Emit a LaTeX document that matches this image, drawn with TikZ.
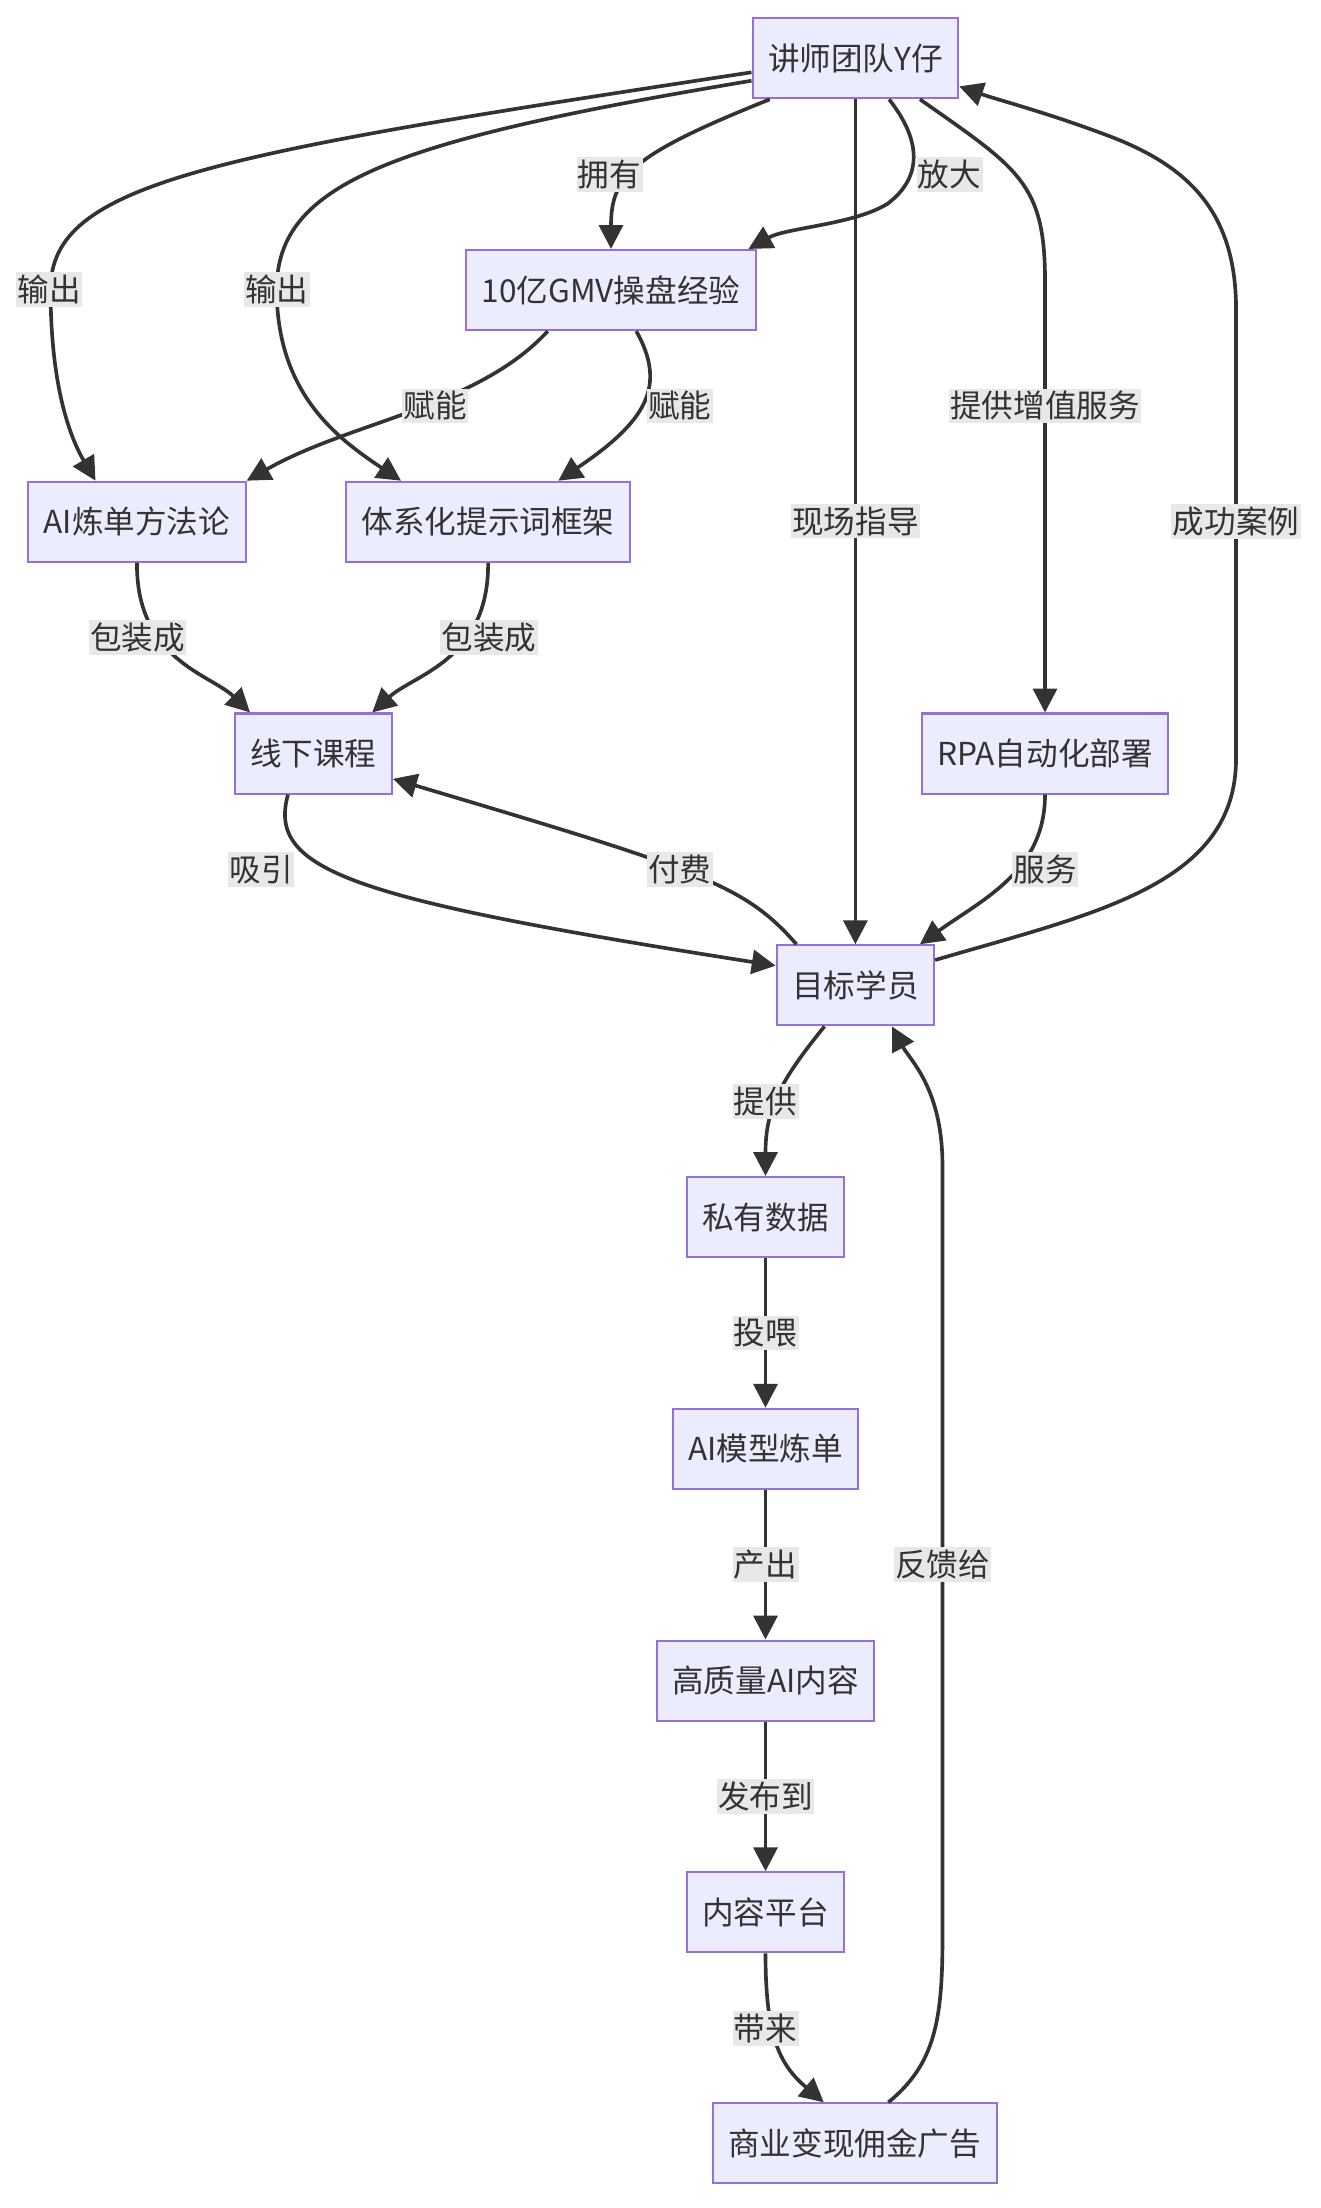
\documentclass[tikz,border=0pt]{standalone}
\usepackage{fontspec}
\setmainfont{Noto Sans CJK SC}
\usetikzlibrary{arrows.meta}

\definecolor{boxfill}{HTML}{ECECFF}
\definecolor{boxline}{HTML}{9370DB}
\definecolor{edge}{HTML}{333333}
\definecolor{lblfill}{HTML}{E8E8E8}

\begin{document}
\begin{tikzpicture}[x=0.5pt,y=-0.5pt,
	font=\fontsize{11.25pt}{13pt}\selectfont,
	box/.style={draw=boxline,fill=boxfill,line width=0.75pt,minimum height=28.5pt,inner xsep=5.5pt,text=edge},
	lbl/.style={fill=lblfill,inner xsep=0.5pt,inner ysep=1pt,text=edge},
	link/.style={->,draw=edge,line width=1.3pt},
	>={Triangle[length=8.5pt,width=8.5pt]}]

	\useasboundingbox (0,0) rectangle (940,1572);

	\node[box] (team) at (609,41.5) {讲师团队Y仔};
	\node[box] (gmv) at (435,206.5) {10亿GMV操盘经验};
	\node[box] (method) at (97.5,371.5) {AI炼单方法论};
	\node[box] (prompt) at (347.5,371.5) {体系化提示词框架};
	\node[box] (course) at (223,536.5) {线下课程};
	\node[box] (rpa) at (744,536.5) {RPA自动化部署};
	\node[box] (student) at (609,701.5) {目标学员};
	\node[box] (data) at (545,866.5) {私有数据};
	\node[box] (model) at (545,1031.5) {AI模型炼单};
	\node[box] (content) at (545,1196.5) {高质量AI内容};
	\node[box] (platform) at (545,1361.5) {内容平台};
	\node[box] (money) at (608.5,1526) {商业变现佣金广告};

	\draw[link] ([yshift=-5pt]team.west) .. controls (150,110) and (36,130) .. (36,206) .. controls (36,280) and (52,315) .. ([xshift=-14.75pt]method.north);
	\draw[link] ([yshift=-8pt]team.west) .. controls (280,100) and (197,130) .. (197,206) .. controls (197,280) and (240,312) .. ([xshift=-31pt]prompt.north);
	\draw[link] ([xshift=-30.5pt]team.south) .. controls (450,110) and (435,125) .. (gmv.north);
	\draw[link] ([xshift=12pt]team.south) .. controls (656,100) and (657,126) .. (632,145) .. controls (608,160) and (560,162) .. ([xshift=-3pt]gmv.north east);
	\draw[link] (team) -- (student);
	\draw[link] ([xshift=23pt]team.south) .. controls (725,120) and (744,130) .. (744,200) -- (rpa);
	\draw[link] ([yshift=9pt]student.east) .. controls (780,650) and (880,630) .. (880,540) -- (880,220) .. controls (880,150) and (845,118) .. (790,97) .. controls (745,80) and (710,71) .. ([yshift=-10pt]team.east);
	\draw[link] ([xshift=-22.5pt]gmv.south) .. controls (340,290) and (250,300) .. (method.north east);
	\draw[link] ([xshift=9pt]gmv.south) .. controls (475,275) and (460,300) .. ([xshift=25pt]prompt.north);
	\draw[link] (method.south) .. controls (97,470) and (150,480) .. ([xshift=-22.5pt]course.north);
	\draw[link] (prompt.south) .. controls (348,470) and (295,480) .. ([xshift=21pt]course.north);
	\draw[link] ([xshift=-9pt]course.south) .. controls (190,620) and (250,640) .. ([yshift=7pt]student.west);
	\draw[link] ([xshift=-21pt]student.north) .. controls (530,630) and (500,620) .. ([yshift=-9pt]course.east);
	\draw[link] (rpa.south) .. controls (744,620) and (700,640) .. ([xshift=23pt]student.north);
	\draw[link] ([xshift=-11pt]student.south) .. controls (555,770) and (545,790) .. (data.north);
	\draw[link] (data) -- (model);
	\draw[link] (model) -- (content);
	\draw[link] (content) -- (platform);
	\draw[link] (platform.south) .. controls (545,1450) and (555,1470) .. ([xshift=-11pt]money.north);
	\draw[link] ([xshift=12pt]money.north) .. controls (665,1470) and (671,1440) .. (671,1380) -- (671,830) .. controls (671,775) and (648,755) .. ([xshift=13pt]student.south);

	\node[lbl] (out1) at (35,206) {输出};
	\node[lbl] (out2) at (197,206) {输出};
	\node[lbl] (own) at (434,124) {拥有};
	\node[lbl] (amp) at (676,124) {放大};
	\node[lbl] (emp1) at (310,289) {赋能};
	\node[lbl] (emp2) at (484,289) {赋能};
	\node[lbl] (guide) at (609,371) {现场指导};
	\node[lbl] (extra) at (744,289) {提供增值服务};
	\node[lbl] (cases) at (880,371) {成功案例};
	\node[lbl] (pack1) at (98,454) {包装成};
	\node[lbl] (pack2) at (348,454) {包装成};
	\node[lbl] (draw) at (186,619) {吸引};
	\node[lbl] (pay) at (484,619) {付费};
	\node[lbl] (serve) at (744,619) {服务};
	\node[lbl] (give) at (545,784) {提供};
	\node[lbl] (feed) at (545,949) {投喂};
	\node[lbl] (yield) at (545,1114) {产出};
	\node[lbl] (post) at (545,1279) {发布到};
	\node[lbl] (bring) at (545,1444) {带来};
	\node[lbl] (back) at (671,1114) {反馈给};

\end{tikzpicture}
\end{document}
